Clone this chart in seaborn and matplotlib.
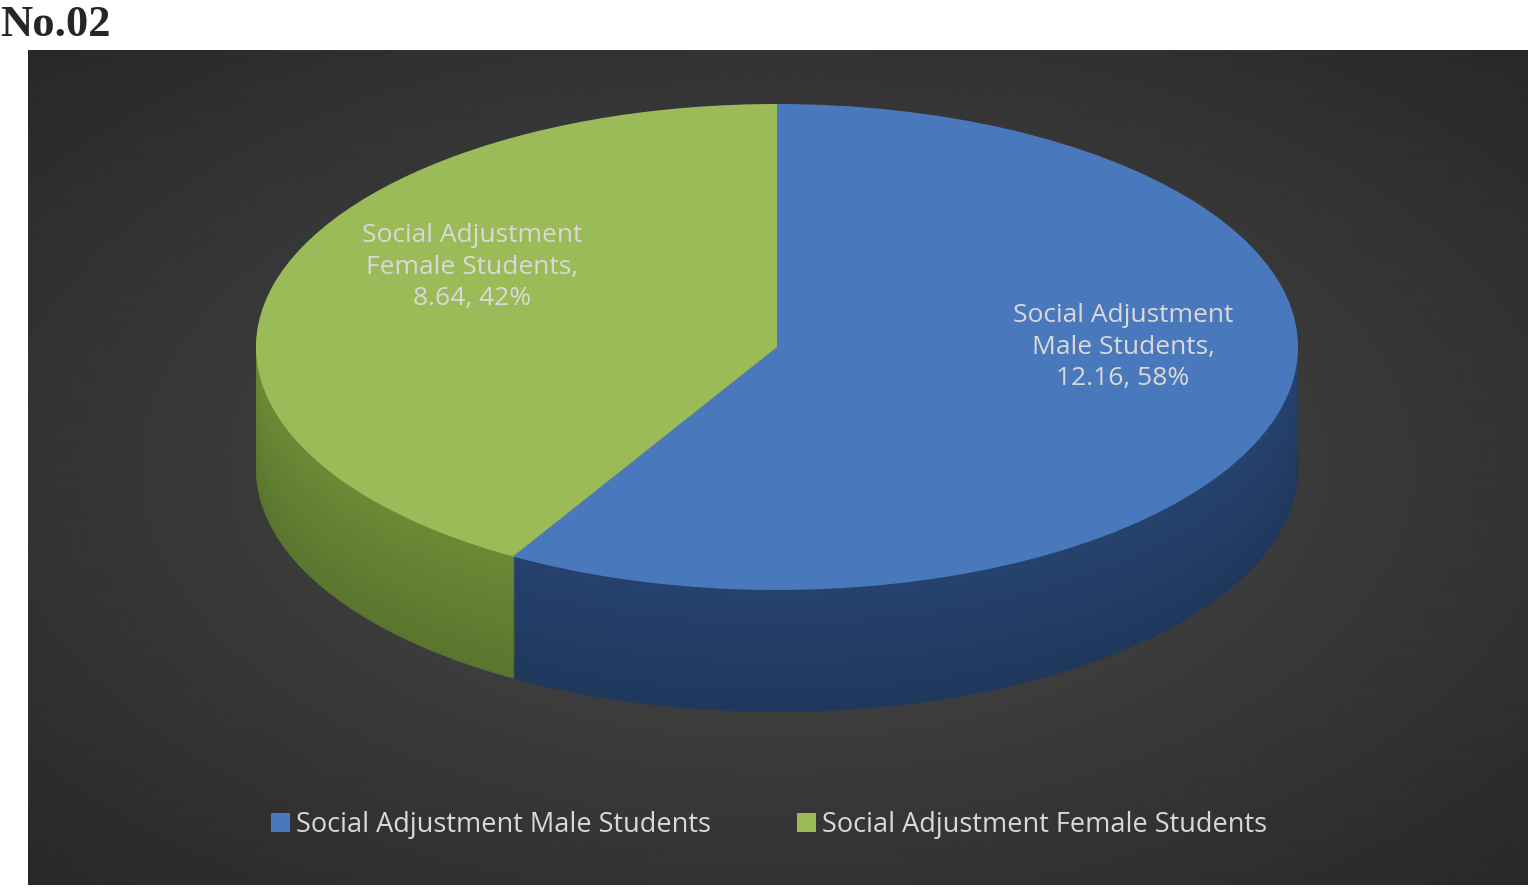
import numpy as np
import matplotlib
matplotlib.use("Agg")
import matplotlib.pyplot as plt
import seaborn as sns
from matplotlib.patches import Patch

sns.set_theme(style="white")
plt.rcParams['font.family'] = ['Open Sans', 'DejaVu Sans']

categories = ["Social Adjustment Male Students", "Social Adjustment Female Students"]
values = [12.16, 8.64]
label_names = ["Social Adjustment\nMale Students,", "Social Adjustment\nFemale Students,"]
top_colors = ["#4a78bd", "#9bbb59"]
side_colors = ["#25426d", "#6b8a36"]

W, H = 1538, 889
fig = plt.figure(figsize=(W/100, H/100), dpi=100)
fig.patch.set_facecolor("white")

px0, px1, py0, py1 = 28, 1528, 50, 885
bg = fig.add_axes([px0/W, 1-py1/H, (px1-px0)/W, (py1-py0)/H])
yy, xx = np.mgrid[-1:1:300j, -1:1:500j]
r = np.sqrt(xx**2 + yy**2)
bg.imshow(0.30 - 0.14*np.clip(r, 0, 1.4)/1.4, cmap="gray", vmin=0, vmax=1, aspect="auto", extent=[0, 1, 0, 1])
bg.axis("off")

fig.text(0.0, 1-25/H, "No.02", family="Liberation Serif", weight="bold", fontsize=32, va="center", ha="left")

cx, cy = 777, 889-347
rx, ry, depth = 521, 243, 122
ax = fig.add_axes([px0/W, 1-py1/H, (px1-px0)/W, (py1-py0)/H])
ax.set_facecolor("none")
nl = 60
for i in range(nl, 0, -1):
    d = depth/ry * i/nl
    shade = 0.85 + 0.15*(1-i/nl)
    cols = [tuple(np.array(matplotlib.colors.to_rgb(c))*shade) for c in side_colors]
    ax.pie(values, colors=cols, startangle=90, counterclock=False, center=(0, -d), radius=1,
           wedgeprops=dict(linewidth=0))
ax.pie(values, colors=top_colors, startangle=90, counterclock=False, center=(0, 0), radius=1,
       wedgeprops=dict(linewidth=0))
ax.set_aspect("auto")
ax.set_xlim((px0-cx)/rx, (px1-cx)/rx)
ax.set_ylim(((H-py1)-cy)/ry, ((H-py0)-cy)/ry)
ax.axis("off")

total = sum(values)
label_pos = [((1123-cx)/rx, ((889-347)-cy)/ry), ((472-cx)/rx, ((889-267)-cy)/ry)]
for (lx, ly), nm, v in zip(label_pos, label_names, values):
    ax.text(lx, ly, f"{nm}\n{v:.2f}, {v/total*100:.0f}%", ha="center", va="center",
            color="#d9d9d9", fontsize=19, linespacing=1.35)

handles = [Patch(facecolor=c, edgecolor="none", label=l) for c, l in zip(top_colors, categories)]
fig.legend(handles=handles, loc="center", bbox_to_anchor=(0.5, 1-825/H), ncol=2, frameon=False,
           fontsize=19.5, labelcolor="#d9d9d9", handlelength=0.7, handleheight=0.7,
           handletextpad=0.2, columnspacing=3.2)

fig.savefig("out.png", dpi=100)
